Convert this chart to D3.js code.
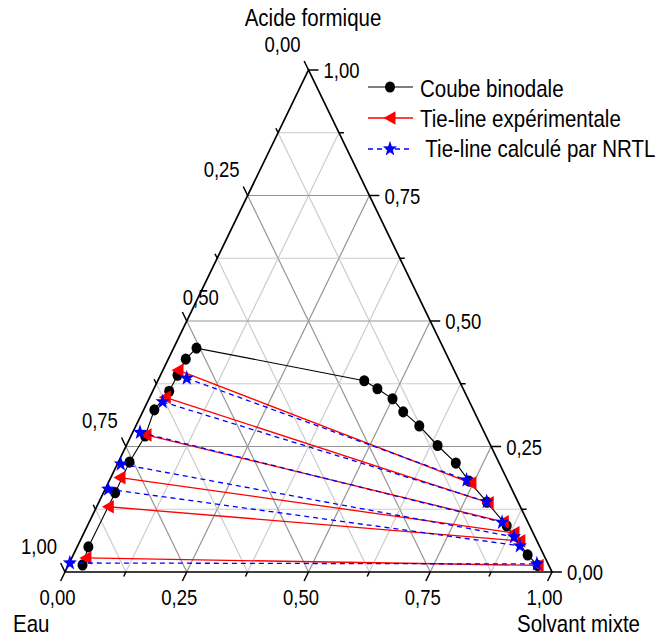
<!DOCTYPE html>
<html><head><meta charset="utf-8">
<script src="https://cdn.jsdelivr.net/npm/d3@7"></script>
<style>body{margin:0;background:#fff} svg{display:block}</style>
</head><body>
<svg id="c" width="662" height="636"></svg>
<script>
// ---- data (mass fractions) ----
const tickValues = [0, 0.25, 0.5, 0.75, 1];
const tickLabels = ["0,00", "0,25", "0,50", "0,75", "1,00"];
const minorStep = 0.125;

// Binodal curve (ordered along the curve)
const binAcide   = [0.014,0.050,0.158,0.219,0.271,0.323,0.360,0.392,0.424,0.446,
                    0.381,0.365,0.345,0.319,0.291,0.252,0.217,0.181,0.139,0.092,0.034,0.013];
const binSolvant = [0.029,0.023,0.024,0.023,0.029,0.022,0.034,0.035,0.036,0.047,
                    0.424,0.459,0.500,0.535,0.582,0.639,0.694,0.739,0.797,0.861,0.933,0.964];

// Experimental tie-lines (aqueous end / organic end)
const expAqAcide   = [0.402,0.348,0.273,0.188,0.130,0.028];
const expAqSolvant = [0.031,0.032,0.030,0.019,0.024,0.029];
const expOrAcide   = [0.177,0.138,0.100,0.078,0.062,0.013];
const expOrSolvant = [0.745,0.800,0.850,0.883,0.903,0.965];

// NRTL tie-lines
const nrtlAqAcide   = [0.386,0.339,0.278,0.215,0.165,0.018];
const nrtlAqSolvant = [0.057,0.031,0.015,0.007,0.006,0.001];
const nrtlOrAcide   = [0.183,0.140,0.099,0.070,0.052,0.016];
const nrtlOrSolvant = [0.733,0.796,0.848,0.887,0.908,0.961];

const legendLabels = ["Coube binodale", "Tie-line expérimentale", " Tie-line calculé par NRTL"];

// ---- geometry ----
const X0 = 65, X1 = 552, YB = 572, YT = 70;
const xs = d3.scaleLinear().domain([0, 1]).range([X0, X1]);
const ys = d3.scaleLinear().domain([0, 1]).range([YB, YT]);
const px = (a, s) => xs(s + a / 2);
const py = a => ys(a);

const svg = d3.select("#c");
const FONT = "'Liberation Sans', Arial, Helvetica, sans-serif";
const SY = 1.17;

function text(x, y, str, size, anchor) {
  return svg.append("text")
    .attr("transform", `translate(${x},${y}) scale(1,${SY})`)
    .attr("font-family", FONT).attr("font-size", size)
    .attr("text-anchor", anchor || "start").attr("fill", "#000")
    .style("white-space", "pre")
    .text(str);
}

// ---- grid ----
const gridVals = d3.range(1, 8).map(i => i * minorStep);
const gGrid = svg.append("g").attr("fill", "none");
gridVals.forEach(t => {
  const major = Math.abs((t / 0.25) - Math.round(t / 0.25)) < 1e-6;
  const col = major ? "#959595" : "#cccccc";
  gGrid.append("line").attr("x1", px(t, 0)).attr("y1", py(t)).attr("x2", px(t, 1 - t)).attr("y2", py(t))
    .attr("stroke", col).attr("stroke-width", 1.2);
  gGrid.append("line").attr("x1", px(0, t)).attr("y1", py(0)).attr("x2", px(1 - t, t)).attr("y2", py(1 - t))
    .attr("stroke", col).attr("stroke-width", 1.2);
  gGrid.append("line").attr("x1", px(0, 1 - t)).attr("y1", py(0)).attr("x2", px(1 - t, 0)).attr("y2", py(1 - t))
    .attr("stroke", col).attr("stroke-width", 1.2);
});

// ---- triangle ----
svg.append("path")
  .attr("d", `M${px(0,0)},${py(0)}L${px(0,1)},${py(0)}L${px(1,0)},${py(1)}Z`)
  .attr("fill", "none").attr("stroke", "#000").attr("stroke-width", 1.7).attr("stroke-linejoin", "miter");

// ---- ticks ----
const L = Math.hypot(X0 - px(1,0), YB - YT);
const dLeftEdge = [(X0 - px(1,0)) / L, (YB - YT) / L];
const dRightUp = [-(X1 - px(1,0)) / L, -(YB - YT) / L];
const gT = svg.append("g").attr("stroke", "#000").attr("stroke-width", 1.5);
d3.range(0, 9).map(i => i * minorStep).forEach(t => {
  const major = Math.abs((t / 0.25) - Math.round(t / 0.25)) < 1e-6;
  const len = major ? 10 : 5;
  let x = px(0, t), y = py(0);
  gT.append("line").attr("x1", x).attr("y1", y).attr("x2", x + dLeftEdge[0] * len).attr("y2", y + dLeftEdge[1] * len);
  x = px(t, 1 - t); y = py(t);
  gT.append("line").attr("x1", x).attr("y1", y).attr("x2", x + len).attr("y2", y);
  x = px(1 - t, 0); y = py(1 - t);
  gT.append("line").attr("x1", x).attr("y1", y).attr("x2", x + dRightUp[0] * len).attr("y2", y + dRightUp[1] * len);
});

// ---- tick labels ----
tickValues.forEach((t, i) => {
  text(px(0, t) - 7.5, 605, tickLabels[i], 18.5, "middle");
  text(px(t, 1 - t) + 15, py(t) + 8, tickLabels[i], 18.5, "start");
  const lx = px(1 - t, 0), ly = py(1 - t);
  if (t === 0.5) text(lx + 14, ly - 16, tickLabels[i], 18.5, "middle");
  else text(lx - 26, ly - 18.5, tickLabels[i], 18.5, "middle");
});

// ---- axis titles ----
text(313, 26, "Acide formique", 20.5, "middle");
text(13, 632, "Eau", 20.5, "start");
text(517, 632, "Solvant mixte", 20.5, "start");

// ---- markers ----
const triPath = "M-6.5,0L5.5,-6.8L5.5,6.8Z";
function starPath(ro, ri) {
  let d = "";
  for (let k = 0; k < 10; k++) {
    const r = k % 2 ? ri : ro;
    const ang = -Math.PI / 2 + k * Math.PI / 5;
    d += (k ? "L" : "M") + (r * Math.cos(ang)).toFixed(2) + "," + (r * Math.sin(ang) * 1.1).toFixed(2);
  }
  return d + "Z";
}
const star = starPath(7.4, 3.0);

// ---- binodal ----
const bin = binAcide.map((a, i) => [px(a, binSolvant[i]), py(a)]);
svg.append("path").attr("d", d3.line()(bin)).attr("fill", "none").attr("stroke", "#000").attr("stroke-width", 1.1);
svg.append("g").selectAll("ellipse").data(bin).join("ellipse")
  .attr("cx", d => d[0]).attr("cy", d => d[1]).attr("rx", 5).attr("ry", 5.6).attr("fill", "#000");

// ---- experimental tie lines ----
const gE = svg.append("g");
expAqAcide.forEach((a, i) => {
  const p1 = [px(a, expAqSolvant[i]), py(a)];
  const p2 = [px(expOrAcide[i], expOrSolvant[i]), py(expOrAcide[i])];
  gE.append("line").attr("x1", p1[0]).attr("y1", p1[1]).attr("x2", p2[0]).attr("y2", p2[1])
    .attr("stroke", "#ff0000").attr("stroke-width", 1.3);
  [p1, p2].forEach(p => gE.append("path").attr("d", triPath).attr("transform", `translate(${p[0]},${p[1]})`).attr("fill", "#ff0000"));
});

// ---- NRTL tie lines ----
const gN = svg.append("g");
nrtlAqAcide.forEach((a, i) => {
  const p1 = [px(a, nrtlAqSolvant[i]), py(a)];
  const p2 = [px(nrtlOrAcide[i], nrtlOrSolvant[i]), py(nrtlOrAcide[i])];
  gN.append("line").attr("x1", p1[0]).attr("y1", p1[1]).attr("x2", p2[0]).attr("y2", p2[1])
    .attr("stroke", "#0000ff").attr("stroke-width", 1.3).attr("stroke-dasharray", "5,4");
  [p1, p2].forEach(p => gN.append("path").attr("d", star).attr("transform", `translate(${p[0]},${p[1]})`).attr("fill", "#0000ff"));
});

// ---- legend ----
const lx0 = 368, lx1 = 413, lxm = 390;
const ly = [87, 118, 149];
svg.append("line").attr("x1", lx0).attr("x2", lx1).attr("y1", ly[0]).attr("y2", ly[0]).attr("stroke", "#000").attr("stroke-width", 1.1);
svg.append("ellipse").attr("cx", lxm).attr("cy", ly[0]).attr("rx", 5).attr("ry", 5.6).attr("fill", "#000");
svg.append("line").attr("x1", lx0).attr("x2", lx1).attr("y1", ly[1]).attr("y2", ly[1]).attr("stroke", "#ff0000").attr("stroke-width", 1.3);
svg.append("path").attr("d", triPath).attr("transform", `translate(${lxm},${ly[1]})`).attr("fill", "#ff0000");
svg.append("line").attr("x1", lx0).attr("x2", lx1).attr("y1", ly[2]).attr("y2", ly[2]).attr("stroke", "#0000ff").attr("stroke-width", 1.3).attr("stroke-dasharray", "5,4");
svg.append("path").attr("d", star).attr("transform", `translate(${lxm},${ly[2]})`).attr("fill", "#0000ff");
text(420, 96.5, legendLabels[0], 20.5, "start");
text(420, 126.5, legendLabels[1], 20.5, "start");
text(420, 156.5, legendLabels[2], 20.5, "start");
</script>
</body></html>
